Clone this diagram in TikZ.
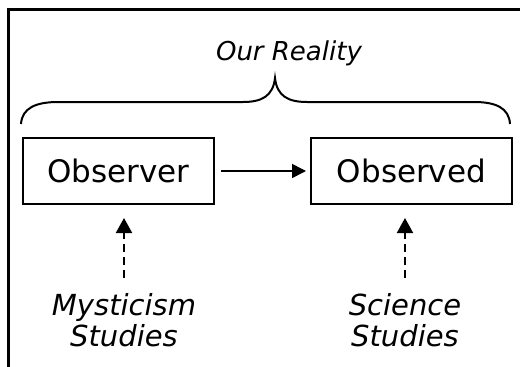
\documentclass[tikz,border=0pt]{standalone}
\usepackage{fontspec}
\setmainfont{DejaVu Sans}
\usetikzlibrary{arrows.meta}
\tikzset{
  box/.style={draw, line width=2pt, minimum height=66pt, inner sep=0pt, font=\fontsize{31}{37}\selectfont},
  lbl/.style={inner sep=0pt, align=center, font=\fontsize{29}{31}\selectfont\itshape},
  solidarrow/.style={line width=1.6pt, -{Triangle[length=14pt,width=14pt]}},
  dasharrow/.style={line width=2pt, dash pattern=on 8pt off 5pt, -{Triangle[length=15pt,width=16pt]}},
  frameline/.style={line width=3pt},
  bracepath/.style={line width=2pt}
}
\begin{document}
\begin{tikzpicture}[x=1pt,y=-1pt]
\useasboundingbox (0,0) rectangle (520,367);
% frame
\draw[frameline] (8,380) -- (8,9) -- (530,9);
% title
\node[inner sep=0pt, anchor=base, font=\fontsize{26}{30}\selectfont\itshape] (title) at (289,60) {Our Reality};
% brace
\draw[bracepath] (21,124) .. controls (22,108) and (36,102) .. (58,102)
  -- (243,102) .. controls (262,102) and (273,96) .. (275,78)
  .. controls (277,96) and (288,102) .. (307,102)
  -- (474,102) .. controls (496,102) and (509,108) .. (510,124);
% boxes
\node[box, minimum width=191pt] (obs) at (118.5,171) {Observer};
\node[box, minimum width=201pt] (obd) at (411.5,171) {Observed};
\draw[solidarrow, shorten <=6pt, shorten >=4pt] (obs.east) -- (obd.west);
% labels
\node[lbl, anchor=north] (mys) at (124,293) {Mysticism\\Studies};
\node[lbl, anchor=north] (sci) at (405,293) {Science\\Studies};
\draw[dasharrow, shorten <=15pt, shorten >=13pt] (mys.north) -- (mys.north |- obs.south);
\draw[dasharrow, shorten <=15pt, shorten >=13pt] (sci.north) -- (sci.north |- obd.south);
\end{tikzpicture}
\end{document}
